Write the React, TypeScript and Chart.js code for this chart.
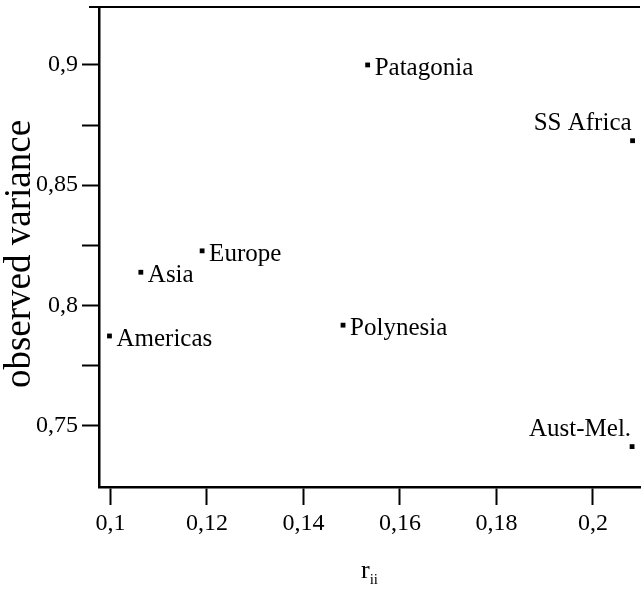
import { useEffect, useRef } from "react";
import { Chart, registerables } from "chart.js";

Chart.register(...registerables);

// ---- data ----
const regions = ["Patagonia", "SS Africa", "Europe", "Asia", "Americas", "Polynesia", "Aust-Mel."];
const rii = [0.1533, 0.2082, 0.119, 0.1063, 0.0998, 0.1482, 0.2081];
const observedVariance = [0.9, 0.8685, 0.8227, 0.8138, 0.7873, 0.7918, 0.7413];
const labelAnchor = ["right", "above-left", "right", "right", "right", "right", "above-left"];
const xTicks = [0.1, 0.12, 0.14, 0.16, 0.18, 0.2];
const yMajorTicks = [0.75, 0.8, 0.85, 0.9];
const yMinorTicks = [0.775, 0.825, 0.875];
const xTitle = "r";
const xTitleSub = "ii";
const yTitle = "observed variance";

const SERIF = "'Liberation Serif', 'DejaVu Serif', serif";
const fmt = (v: number) => String(v).replace(".", ",");

const labelsPlugin = {
  id: "pointLabels",
  afterDatasetsDraw(chart: any) {
    const ctx = chart.ctx;
    const meta = chart.getDatasetMeta(0);
    ctx.save();
    ctx.fillStyle = "#000";
    ctx.font = `25px ${SERIF}`;
    ctx.textBaseline = "alphabetic";
    meta.data.forEach((pt: any, i: number) => {
      const { x, y } = pt.getProps(["x", "y"], true);
      if (labelAnchor[i] === "above-left") {
        ctx.textAlign = "right";
        ctx.fillText(regions[i], x - 1, y - 11);
      } else {
        ctx.textAlign = "left";
        ctx.fillText(regions[i], x + 7, y + 10);
      }
    });
    ctx.restore();
  },
};

const framePlugin = {
  id: "frame",
  afterDraw(chart: any) {
    const ctx = chart.ctx;
    const a = chart.chartArea;
    ctx.save();
    ctx.strokeStyle = "#000";
    ctx.lineWidth = 2;
    ctx.beginPath();
    ctx.moveTo(89, a.top);
    ctx.lineTo(a.right, a.top);
    ctx.stroke();

    // y title
    ctx.fillStyle = "#000";
    ctx.font = `37px ${SERIF}`;
    ctx.textAlign = "center";
    ctx.textBaseline = "middle";
    ctx.translate(20, 254);
    ctx.rotate(-Math.PI / 2);
    ctx.fillText(yTitle, 0, 0);
    ctx.restore();

    // x title with subscript
    ctx.save();
    ctx.fillStyle = "#000";
    ctx.textBaseline = "alphabetic";
    ctx.textAlign = "left";
    ctx.font = `26px ${SERIF}`;
    const rw = ctx.measureText(xTitle).width;
    ctx.font = `15px ${SERIF}`;
    const sw = ctx.measureText(xTitleSub).width;
    const cx = (a.left + a.right) / 2;
    const x0 = cx - (rw + sw) / 2;
    ctx.font = `26px ${SERIF}`;
    ctx.fillText(xTitle, x0, 578);
    ctx.font = `15px ${SERIF}`;
    ctx.fillText(xTitleSub, x0 + rw, 584);
    ctx.restore();
  },
};

export default function App() {
  const ref = useRef<HTMLCanvasElement | null>(null);
  useEffect(() => {
    if (!ref.current) return;
    const chart = new Chart(ref.current, {
      type: "scatter",
      data: {
        datasets: [
          {
            data: rii.map((x, i) => ({ x, y: observedVariance[i] })),
            pointStyle: "rect",
            radius: 3.4,
            backgroundColor: "#000",
            borderColor: "#000",
            borderWidth: 0,
          },
        ],
      },
      options: {
        animation: false,
        responsive: false,
        maintainAspectRatio: false,
        layout: { padding: { top: 7, right: 0, left: 0, bottom: 0 } },
        plugins: { legend: { display: false }, tooltip: { enabled: false } },
        scales: {
          x: {
            type: "linear",
            min: 0.09763,
            max: 0.20974,
            afterBuildTicks: (s: any) => {
              s.ticks = xTicks.map((v) => ({ value: v }));
            },
            afterFit: (s: any) => {
              s.height = 103;
              s.paddingLeft = 0;
              s.paddingRight = 0;
            },
            ticks: {
              color: "#000",
              font: { family: SERIF, size: 24 },
              maxRotation: 0,
              autoSkip: false,
              padding: 4,
              callback: (v: any) => fmt(Number(v)),
            },
            grid: { drawOnChartArea: false, drawTicks: true, tickLength: 18, tickWidth: 2, tickColor: "#000" },
            border: { display: true, color: "#000", width: 2.5 },
          },
          y: {
            type: "linear",
            min: 0.7245,
            max: 0.9241,
            afterBuildTicks: (s: any) => {
              s.ticks = [...yMajorTicks, ...yMinorTicks].sort((a, b) => a - b).map((v) => ({ value: v }));
            },
            afterFit: (s: any) => {
              s.width = 99;
              s.paddingTop = 0;
              s.paddingBottom = 0;
            },
            ticks: {
              color: "#000",
              font: { family: SERIF, size: 24 },
              autoSkip: false,
              padding: 4,
              callback: (v: any) => (yMajorTicks.some((m) => Math.abs(m - Number(v)) < 1e-9) ? fmt(Number(v)) : ""),
            },
            grid: { drawOnChartArea: false, drawTicks: true, tickLength: 17, tickWidth: 2, tickColor: "#000" },
            border: { display: true, color: "#000", width: 2.5 },
          },
        },
      },
      plugins: [labelsPlugin, framePlugin],
    });
    return () => chart.destroy();
  }, []);
  return (
    <div style={{ position: "fixed", left: 0, top: 0, width: 644, height: 590, background: "#fff" }}>
      <canvas ref={ref} width={644} height={590} style={{ display: "block" }} />
    </div>
  );
}
